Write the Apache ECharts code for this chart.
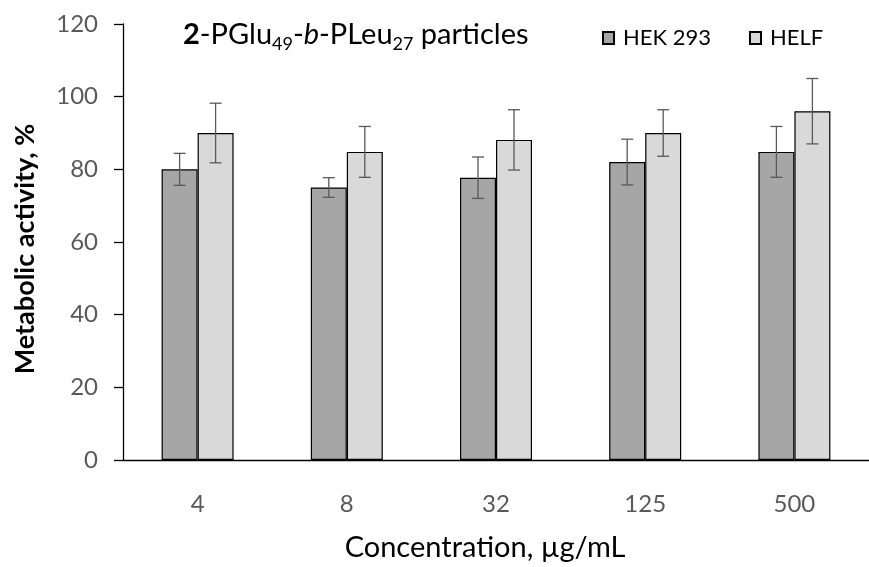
<!DOCTYPE html>
<html>
<head>
<meta charset="utf-8">
<title>Metabolic activity</title>
<script src="https://cdn.jsdelivr.net/npm/echarts@6/dist/echarts.min.js"></script>
<style>
  html, body { margin: 0; padding: 0; background: #fff; }
  #main { width: 869px; height: 567px; }
</style>
</head>
<body>
<div id="main"></div>
<script>
// data
var concentrations = ['4', '8', '32', '125', '500'];
var hekMean = [80, 75, 77.7, 82, 84.8];
var hekErr = [4.4, 2.7, 5.7, 6.3, 7];
var helfMean = [90, 84.8, 88.1, 90, 96];
var helfErr = [8.2, 7, 8.3, 6.4, 9];
var yTicks = [0, 20, 40, 60, 80, 100, 120];

var FONT = 'Lato';
var BAR_W = 36;

function errData(means, errs) {
    return means.map(function (m, i) { return [i, m, errs[i]]; });
}

// error bar drawn with the axes' own coords, shifted by half a bar
function errRender(shift) {
    return function (params, api) {
        var i = api.value(0), m = api.value(1), e = api.value(2);
        var top = api.coord([i, m + e]);
        var bot = api.coord([i, m - e]);
        var x = top[0] + shift;
        var cap = 6;
        var st = { stroke: '#595959', lineWidth: 1.3 };
        return {
            type: 'group',
            children: [
                { type: 'line', shape: { x1: x, y1: top[1], x2: x, y2: bot[1] }, style: st },
                { type: 'line', shape: { x1: x - cap, y1: top[1], x2: x + cap, y2: top[1] }, style: st },
                { type: 'line', shape: { x1: x - cap, y1: bot[1], x2: x + cap, y2: bot[1] }, style: st }
            ]
        };
    };
}

var chart = echarts.init(document.getElementById('main'));

var option = {
    animation: false,
    textStyle: { fontFamily: FONT },
    title: {
        left: 178,
        top: 13,
        text: '{b|2}{t|-PGlu}{s|49}{t|-}{i|b}{t|-PLeu}{s|27}{t| particles}',
        textStyle: {
            rich: {
                b: { fontFamily: FONT, fontSize: 29, fontWeight: 'bold', color: '#000', lineHeight: 34 },
                t: { fontFamily: FONT, fontSize: 29, fontWeight: 'normal', color: '#000', lineHeight: 34 },
                i: { fontFamily: FONT, fontSize: 29, fontWeight: 'normal', fontStyle: 'italic', color: '#000', lineHeight: 34 },
                s: { fontFamily: FONT, fontSize: 18, fontWeight: 'normal', color: '#000', lineHeight: 16, padding: [18, 0, 0, 0] }
            }
        }
    },
    legend: {
        left: 597,
        top: 22,
        icon: 'rect',
        itemWidth: 11,
        itemHeight: 12,
        itemGap: 38,
        data: ['HEK 293', 'HELF'],
        textStyle: { fontFamily: FONT, fontSize: 22, color: '#000', padding: [0, 0, 0, 4] }
    },
    grid: {
        left: 123,
        right: 0,
        top: 24,
        bottom: 106
    },
    xAxis: {
        type: 'category',
        data: concentrations,
        name: 'Concentration, µg/mL',
        nameLocation: 'middle',
        nameGap: 73,
        nameTextStyle: { fontFamily: FONT, fontSize: 29, color: '#000', padding: [0, 22, 0, 0] },
        axisLine: { lineStyle: { color: '#000', width: 1.3 } },
        axisTick: { show: false },
        axisLabel: { margin: 32, fontFamily: FONT, fontSize: 24, color: '#595959' }
    },
    yAxis: {
        type: 'value',
        min: yTicks[0],
        max: yTicks[yTicks.length - 1],
        interval: 20,
        name: 'Metabolic activity, %',
        nameLocation: 'middle',
        nameGap: 84,
        nameTextStyle: { fontFamily: FONT, fontSize: 27, fontWeight: 'bold', color: '#000', padding: [0, 14, 0, 0] },
        axisLine: { show: true, lineStyle: { color: '#000', width: 1.3 } },
        axisTick: { show: true, length: 9, lineStyle: { color: '#000', width: 1.3 } },
        splitLine: { show: false },
        axisLabel: { margin: 25, fontFamily: FONT, fontSize: 24, color: '#595959' }
    },
    series: [{
        name: 'HEK 293',
        type: 'bar',
        barWidth: BAR_W,
        barGap: '0%',
        data: hekMean,
        itemStyle: { color: '#a6a6a6', borderColor: '#000', borderWidth: 1.2 }
    }, {
        name: 'HELF',
        type: 'bar',
        barWidth: BAR_W,
        barGap: '0%',
        data: helfMean,
        itemStyle: { color: '#d9d9d9', borderColor: '#000', borderWidth: 1.2 }
    }, {
        type: 'custom',
        name: 'hek-err',
        renderItem: errRender(-BAR_W / 2),
        data: errData(hekMean, hekErr),
        z: 10,
        silent: true
    }, {
        type: 'custom',
        name: 'helf-err',
        renderItem: errRender(BAR_W / 2),
        data: errData(helfMean, helfErr),
        z: 10,
        silent: true
    }]
};

chart.setOption(option);
window.addEventListener('resize', chart.resize);
</script>
</body>
</html>
